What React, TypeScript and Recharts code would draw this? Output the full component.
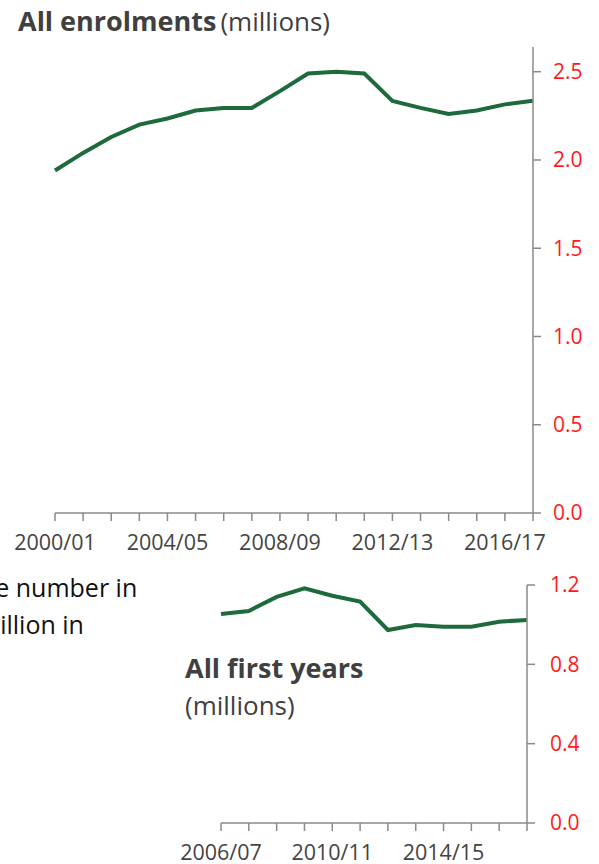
import { LineChart, Line, XAxis, YAxis } from 'recharts';

// All enrolments, 2000/01 – 2017/18 (millions)
const allYears = [
  '2000/01', '2001/02', '2002/03', '2003/04', '2004/05', '2005/06', '2006/07', '2007/08', '2008/09',
  '2009/10', '2010/11', '2011/12', '2012/13', '2013/14', '2014/15', '2015/16', '2016/17', '2017/18',
];
const enrolments = [
  1.94, 2.04, 2.13, 2.2, 2.235, 2.28, 2.295, 2.295, 2.39,
  2.49, 2.5, 2.49, 2.335, 2.295, 2.26, 2.28, 2.315, 2.335,
];
const allYearLabels = ['2000/01', '2004/05', '2008/09', '2012/13', '2016/17'];
const allTicks = [0, 0.5, 1, 1.5, 2, 2.5];

// First years, 2006/07 – 2017/18 (millions)
const firstYears = [
  '2006/07', '2007/08', '2008/09', '2009/10', '2010/11', '2011/12',
  '2012/13', '2013/14', '2014/15', '2015/16', '2016/17', '2017/18',
];
const firstYearValues = [1.054, 1.069, 1.14, 1.183, 1.146, 1.116, 0.973, 0.998, 0.99, 0.99, 1.015, 1.024];
const firstYearLabels = ['2006/07', '2010/11', '2014/15'];
const firstTicks = [0, 0.4, 0.8, 1.2];

const GREEN = '#1d6b3c';
const AXIS = '#8a8a8a';
const RED = '#ff1a1a';
const FONT = '"Open Sans", "Noto Sans", sans-serif';

const allData = allYears.map((year, i) => ({ year, value: enrolments[i] }));
const firstData = firstYears.map((year, i) => ({ year, value: firstYearValues[i] }));

function YearTick(props: any) {
  const { x, y, payload, labels } = props;
  return (
    <g>
      <line x1={x} x2={x} y1={y - 8} y2={y} stroke={AXIS} strokeWidth={1.5} />
      {labels.includes(payload.value) && (
        <text x={x} y={y + 29} textAnchor="middle" fill="#444" fontSize={21.5} fontFamily={FONT}>
          {payload.value}
        </text>
      )}
    </g>
  );
}

export default function App() {
  return (
    <div style={{ position: 'absolute', left: 0, top: 0, width: 599, height: 864, background: '#fff', overflow: 'hidden', fontFamily: FONT }}>
      <div style={{ position: 'absolute', left: 18, top: 2, color: '#404040', whiteSpace: 'nowrap' }}>
        <span style={{ fontWeight: 700, fontSize: 27 }}>All enrolments</span>
        <span style={{ fontSize: 26, marginLeft: 4 }}>(millions)</span>
      </div>

      <div style={{ position: 'absolute', left: 0, top: 0 }}>
        <LineChart width={599} height={563} data={allData} margin={{ top: 47, right: 0, bottom: 0, left: 55 }}>
          <XAxis
            dataKey="year"
            interval={0}
            height={50}
            tickSize={8}
            tickMargin={0}
            tickLine={false}
            axisLine={{ stroke: AXIS, strokeWidth: 1.5 }}
            tick={<YearTick labels={allYearLabels} />}
          />
          <YAxis
            orientation="right"
            width={66}
            domain={[0, 2.64]}
            ticks={allTicks}
            tickFormatter={(v: number) => v.toFixed(1)}
            tickSize={8}
            tickMargin={12}
            axisLine={{ stroke: AXIS, strokeWidth: 1.5 }}
            tickLine={{ stroke: AXIS, strokeWidth: 1.5 }}
            tick={{ fill: RED, fontSize: 21, fontFamily: FONT, textAnchor: 'start' }}
          />
          <Line type="linear" dataKey="value" stroke={GREEN} strokeWidth={4} dot={false} isAnimationActive={false} />
        </LineChart>
      </div>

      <div style={{ position: 'absolute', left: -15, top: 569, fontSize: 25, lineHeight: '37px', color: '#111', whiteSpace: 'nowrap' }}>
        <div>re number in</div>
        <div style={{ marginLeft: -8 }}>million in</div>
      </div>

      <div style={{ position: 'absolute', left: 0, top: 540 }}>
        <LineChart width={599} height={324} data={firstData} margin={{ top: 45, right: 0, bottom: 0, left: 221 }}>
          <XAxis
            dataKey="year"
            interval={0}
            height={41}
            tickSize={8}
            tickMargin={0}
            tickLine={false}
            axisLine={{ stroke: AXIS, strokeWidth: 1.5 }}
            tick={<YearTick labels={firstYearLabels} />}
          />
          <YAxis
            orientation="right"
            width={72}
            domain={[0, 1.2]}
            ticks={firstTicks}
            tickFormatter={(v: number) => v.toFixed(1)}
            tickSize={8}
            tickMargin={15}
            axisLine={{ stroke: AXIS, strokeWidth: 1.5 }}
            tickLine={{ stroke: AXIS, strokeWidth: 1.5 }}
            tick={{ fill: RED, fontSize: 21, fontFamily: FONT, textAnchor: 'start' }}
          />
          <Line type="linear" dataKey="value" stroke={GREEN} strokeWidth={4} dot={false} isAnimationActive={false} />
        </LineChart>
      </div>

      <div style={{ position: 'absolute', left: 185, top: 649, color: '#404040', whiteSpace: 'nowrap' }}>
        <div style={{ fontSize: 27, fontWeight: 700, lineHeight: '38px' }}>All first years</div>
        <div style={{ fontSize: 26, lineHeight: '36px' }}>(millions)</div>
      </div>
    </div>
  );
}
